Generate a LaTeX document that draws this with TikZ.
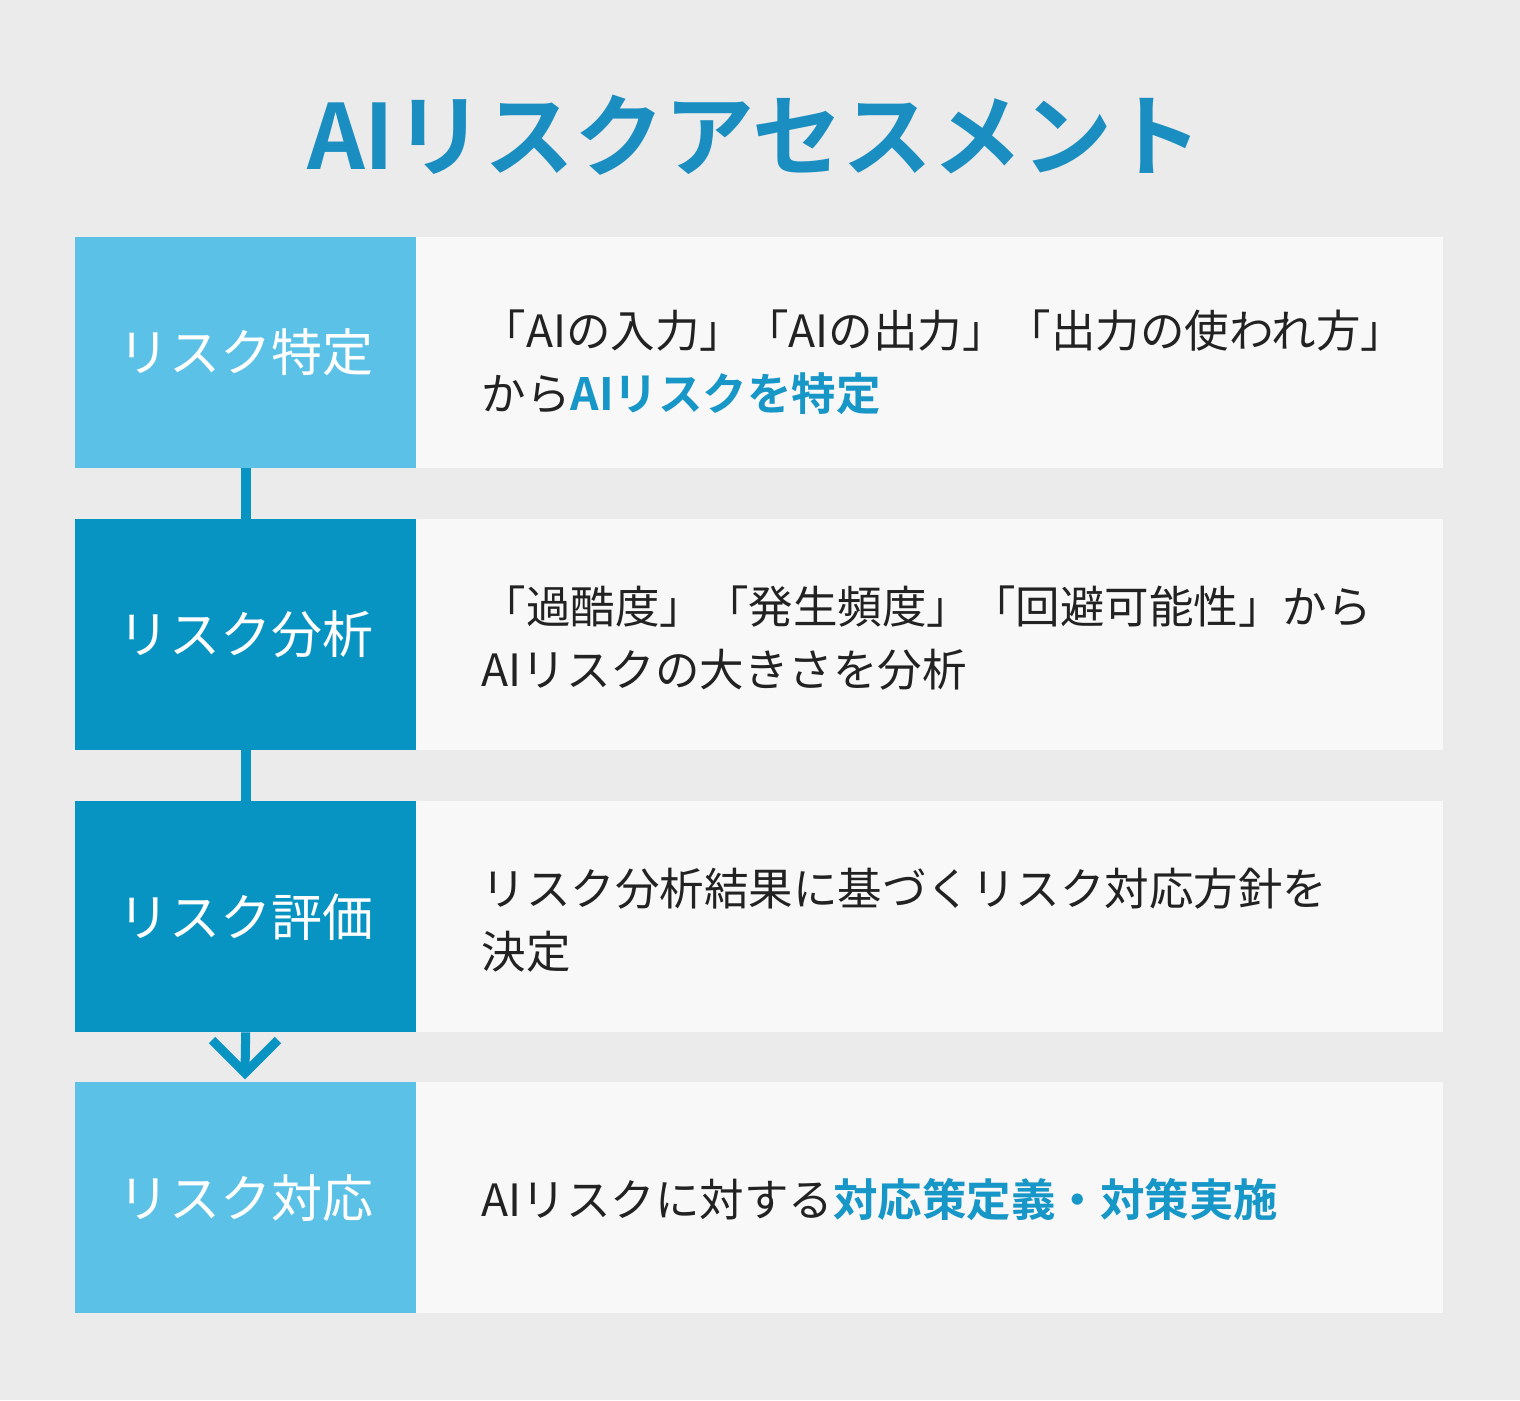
\documentclass[tikz,border=0pt]{standalone}
\usepackage{fontspec}
\setmainfont{Noto Sans CJK JP}
\newfontfamily\jpb{Noto Sans CJK JP Bold}
\definecolor{bg}{HTML}{EBEBEB}
\definecolor{ttl}{HTML}{1A8EC0}
\definecolor{lt}{HTML}{5BC1E6}
\definecolor{dk}{HTML}{0894C2}
\definecolor{pn}{HTML}{F8F8F8}
\definecolor{tx}{HTML}{222222}
\definecolor{hl}{HTML}{1796C8}
\begin{document}
\begin{tikzpicture}[x=1pt,y=-1pt,
  lbox/.style={fill=#1,draw=none,minimum width=341pt,minimum height=231pt,inner sep=0,anchor=north west,text=white,font=\fontsize{51}{60}\selectfont},
  pbox/.style={fill=pn,draw=none,minimum width=1028pt,minimum height=231pt,inner sep=0,anchor=north west},
  desc/.style={anchor=west,text=tx,align=left,font=\fontsize{44.5}{63}\selectfont},
  conn/.style={draw=dk,line width=10pt}]
\fill[bg] (0,0) rectangle (1520,1400);
\node[text=ttl,font=\jpb\fontsize{90}{110}\selectfont] (title) at (755,135) {AIリスクアセスメント};
\node[pbox] (p1) at (415,237) {};
\node[pbox] (p2) at (415,519) {};
\node[pbox] (p3) at (415,801) {};
\node[pbox] (p4) at (415,1082) {};
\node[lbox=lt] (s1) at (75,237) {リスク特定};
\node[lbox=dk] (s2) at (75,519) {リスク分析};
\node[lbox=dk] (s3) at (75,801) {リスク評価};
\node[lbox=lt] (s4) at (75,1082) {リスク対応};
\draw[conn] (s1.south) -- (s2.north);
\draw[conn] (s2.south) -- (s3.north);
\coordinate (a1) at (212,1040);
\coordinate (a2) at (245,1073);
\coordinate (a3) at (278,1040);
\draw[conn,line width=9pt] (s3.south) -- (a2);
\draw[dk,line width=9pt] (a1) -- (a2) -- (a3);
\node[desc] (d1) at (478,362) {「AIの入力」「AIの出力」「出力の使われ方」\\ から{\jpb\color{hl}AIリスクを特定}};
\node[desc] (d2) at (478,638) {「過酷度」「発生頻度」「回避可能性」から\\AIリスクの大きさを分析};
\node[desc] (d3) at (478,920) {リスク分析結果に基づくリスク対応方針を\\決定};
\node[desc] (d4) at (478,1200) {AIリスクに対する{\jpb\color{hl}対応策定義・対策実施}};
\end{tikzpicture}
\end{document}
